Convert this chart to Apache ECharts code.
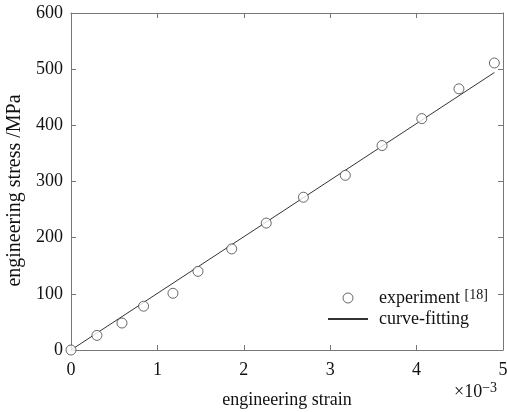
<!DOCTYPE html>
<html><head><meta charset="utf-8">
<script src="https://cdn.jsdelivr.net/npm/echarts@6/dist/echarts.min.js"></script>
<style>html,body{margin:0;padding:0;background:#fff}#c{width:507px;height:412px}</style>
</head><body><div id="c"></div>
<script>
var strain = [0, 0.30, 0.59, 0.84, 1.18, 1.47, 1.86, 2.26, 2.69, 3.175, 3.60, 4.06, 4.49, 4.90];
var stress = [0, 26, 48, 78, 101, 140, 180, 226, 272, 311, 364, 412, 465, 511];
var fitStrain = [0, 4.90];
var fitStress = [0, 494];
var xTicks = [0, 1, 2, 3, 4, 5];
var yTicks = [0, 100, 200, 300, 400, 500, 600];

var font = 'Liberation Serif';
var axisColor = '#777';
var chart = echarts.init(document.getElementById('c'));
var expData = strain.map(function (v, i) { return [v, stress[i]]; });
var fitData = fitStrain.map(function (v, i) { return [v, fitStress[i]]; });

function tick() { return { show: true, inside: true, length: 5, lineStyle: { color: axisColor, width: 1 } }; }
function line() { return { show: true, onZero: false, lineStyle: { color: axisColor, width: 1 } }; }

chart.setOption({
  animation: false,
  textStyle: { fontFamily: font },
  grid: { left: 71, right: 4, top: 13, bottom: 62, containLabel: false, outerBoundsMode: 'none', show: false },
  xAxis: [{
    type: 'value', position: 'bottom', min: xTicks[0], max: xTicks[xTicks.length - 1], interval: 1,
    axisLine: line(),
    axisTick: tick(),
    axisLabel: { color: '#111', fontSize: 18, fontFamily: font, margin: 11 },
    splitLine: { show: false },
    name: 'engineering strain', nameLocation: 'middle', nameGap: 41,
    nameTextStyle: { color: '#111', fontSize: 18, fontFamily: font }
  }, {
    type: 'value', position: 'top', min: xTicks[0], max: xTicks[xTicks.length - 1], interval: 1, show: true,
    axisLine: line(),
    axisTick: tick(),
    axisLabel: { show: false }, splitLine: { show: false }
  }],
  yAxis: [{
    type: 'value', position: 'left', min: yTicks[0], max: yTicks[yTicks.length - 1], interval: 100,
    axisLine: line(),
    axisTick: tick(),
    axisLabel: { color: '#111', fontSize: 18, fontFamily: font, margin: 8 },
    splitLine: { show: false },
    name: 'engineering stress /MPa', nameLocation: 'middle', nameGap: 42,
    nameTextStyle: { color: '#111', fontSize: 20, fontFamily: font, padding: [0, 18, 0, 0] }
  }, {
    type: 'value', position: 'right', min: yTicks[0], max: yTicks[yTicks.length - 1], interval: 100, show: true,
    axisLine: line(),
    axisTick: tick(),
    axisLabel: { show: false }, splitLine: { show: false }
  }],
  legend: {
    orient: 'vertical', left: 322, top: 283, itemWidth: 40, itemHeight: 10, itemGap: 3,
    data: [
      { name: 'experiment', icon: 'circle', itemStyle: { color: '#fff', borderColor: '#444', borderWidth: 1 } },
      { name: 'curve-fitting', itemStyle: { opacity: 0 } }
    ],
    formatter: function (n) { return n === 'experiment' ? 'experiment {sup|[18]}' : n; },
    textStyle: {
      color: '#111', fontSize: 18, fontFamily: font, padding: [0, 0, 0, 6],
      rich: { sup: { fontSize: 14, fontFamily: font, color: '#111', verticalAlign: 'top', padding: [0, 0, 6, 0] } }
    }
  },
  graphic: [{
    type: 'text', left: 454, top: 381,
    style: { text: '×10{s|−3}', fontSize: 18, fontFamily: font, fill: '#111',
      rich: { s: { fontSize: 14, fontFamily: font, fill: '#111', verticalAlign: 'top', padding: [0, 0, 8, 0] } } }
  }],
  series: [{
    name: 'experiment', type: 'scatter', data: expData,
    symbol: 'circle', symbolSize: 10,
    itemStyle: { color: '#fff', borderColor: '#444', borderWidth: 1 }, z: 3
  }, {
    name: 'curve-fitting', type: 'line', data: fitData, symbol: 'none', xAxisIndex: 1, yAxisIndex: 1,
    lineStyle: { color: '#333', width: 1 }, itemStyle: { color: '#333' }
  }]
});
</script></body></html>
